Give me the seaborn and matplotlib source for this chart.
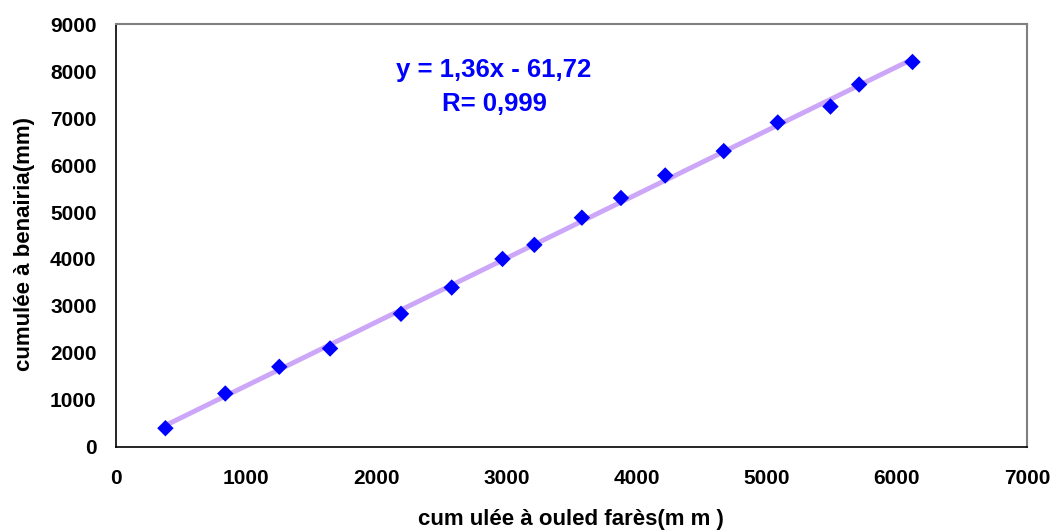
import numpy as np
import pandas as pd
import seaborn as sns
import matplotlib.pyplot as plt

# pluie cumulée (mm)
ouled_fares = [380, 840, 1255, 1645, 2190, 2580, 2970, 3215, 3580, 3880, 4220, 4670, 5085, 5490, 5710, 6120]
benairia = [390, 1130, 1700, 2090, 2830, 3390, 4000, 4300, 4880, 5300, 5780, 6300, 6910, 7250, 7720, 8200]

x_ticks = [0, 1000, 2000, 3000, 4000, 5000, 6000, 7000]
y_ticks = [0, 1000, 2000, 3000, 4000, 5000, 6000, 7000, 8000, 9000]

df = pd.DataFrame({"x": ouled_fares, "y": benairia})

sns.set_style("white")
plt.rcParams["font.family"] = ["Liberation Sans", "DejaVu Sans"]
plt.rcParams["text.color"] = "black"
plt.rcParams["axes.labelcolor"] = "black"
plt.rcParams["xtick.color"] = "black"
plt.rcParams["ytick.color"] = "black"

fig = plt.figure(figsize=(10.58, 5.32), dpi=100)
ax = fig.add_axes([0.1096, 0.1607, 0.8611, 0.7933])

sns.regplot(data=df, x="x", y="y", ax=ax, scatter=False, ci=None,
            line_kws={"color": "#CCA6F8", "lw": 3.5, "zorder": 2})
sns.scatterplot(data=df, x="x", y="y", ax=ax, marker="D", s=70,
                color="#0000FF", edgecolor="none", zorder=3)

ax.set_xlim(0, 7000)
ax.set_ylim(0, 9000)
ax.set_xticks(x_ticks)
ax.set_yticks(y_ticks)
ax.tick_params(axis="both", direction="out", length=5, width=1, labelsize=15)
ax.tick_params(axis="x", pad=11)
ax.tick_params(axis="y", pad=9)
for lab in ax.get_xticklabels() + ax.get_yticklabels():
    lab.set_fontweight("bold")

for s in ["left", "bottom"]:
    ax.spines[s].set_color("black")
    ax.spines[s].set_linewidth(1.2)
for s in ["top", "right"]:
    ax.spines[s].set_color("#808080")
    ax.spines[s].set_linewidth(1.5)

ax.set_xlabel("cum ulée à ouled farès(m m )", fontsize=16, fontweight="bold", va="center")
ax.set_ylabel("cumulée à benairia(mm)", fontsize=16, fontweight="bold", va="center")
ax.xaxis.set_label_coords(0.4995, -0.174)
ax.yaxis.set_label_coords(-0.1, 0.48)

ax.text(0.415, 0.852, "y = 1,36x - 61,72\nR= 0,999", transform=ax.transAxes,
        ha="center", va="center", color="#0000FF", fontsize=18.5,
        fontweight="bold", linespacing=1.55)

fig.savefig("out.png", dpi=100)
